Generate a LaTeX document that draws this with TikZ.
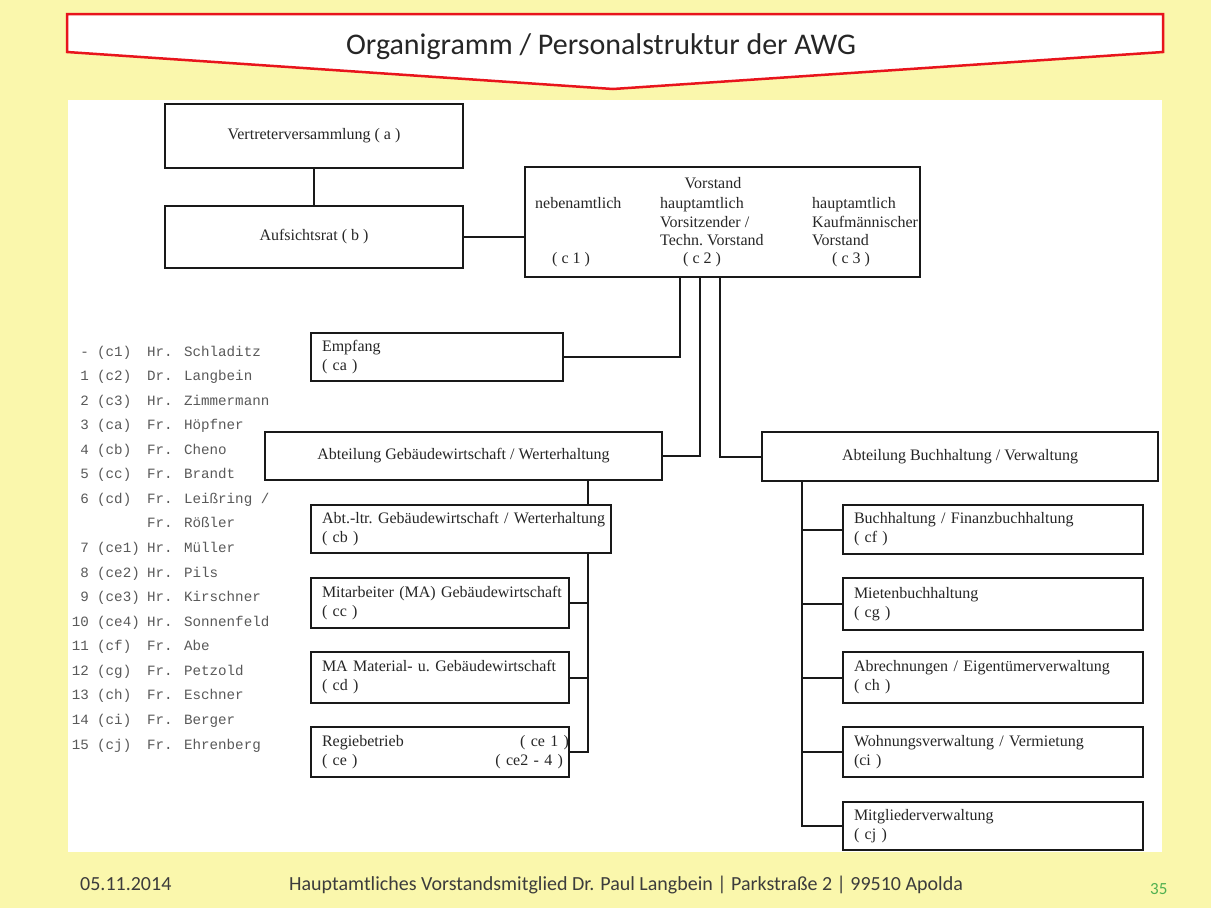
\documentclass[tikz,border=0pt]{standalone}
\usepackage{fontspec}
\setmainfont{Liberation Serif}
\newfontfamily\calfont{Carlito}
\newfontfamily\listfont{Liberation Mono}
\newcommand\lsl{/}
\definecolor{bgyellow}{RGB}{250,247,172}
\definecolor{bannerred}{RGB}{232,20,28}
\definecolor{pagegreen}{RGB}{80,176,80}
\definecolor{foottext}{RGB}{60,60,60}
\tikzset{
 box/.style={draw=black!90, line width=2pt, fill=white, inner sep=0pt,
   font=\fontsize{16}{19}\selectfont\frenchspacing, text=black!85},
 lbox/.style={box, align=left, inner xsep=11pt},
 conn/.style={draw=black!90, line width=2pt},
 vtext/.style={font=\fontsize{16}{19}\selectfont\frenchspacing, text=black!85, inner sep=0pt},
 listtext/.style={font=\listfont\fontsize{14.2}{17}\selectfont, text=black!65, inner sep=0pt},
 foot/.style={font=\calfont\fontsize{20}{24}\selectfont, text=foottext, inner sep=0pt}
}
\begin{document}
\begin{tikzpicture}[x=1pt,y=-1pt]
\useasboundingbox (0,0) rectangle (1211,908);
\fill[bgyellow] (0,0) rectangle (1211,908);
\fill[white] (68,100) rectangle (1162,852);
% banner
\draw[bannerred, line width=2.5pt, fill=white, line join=miter]
  (67,14) -- (1163,14) -- (1163,52) -- (613,89) -- (67,52) -- cycle;
\node[font=\calfont\fontsize{30}{36}\selectfont, text=black!85, anchor=base, inner sep=0pt]
  (title) at (601,54) {Organigramm / Personalstruktur der AWG};

% top boxes
\node[box, minimum width=298pt, minimum height=64pt] (va) at (314,136) {Vertreterversammlung ( a )};
\node[box, minimum width=298pt, minimum height=62pt] (ar) at (314,237) {Aufsichtsrat ( b )};
\node[box, minimum width=395pt, minimum height=110pt] (vs) at (722.5,222) {};
\node[vtext, anchor=base] (vsT) at (713,188) {Vorstand};
\node[vtext, anchor=base west] (vs1a) at (535,208) {nebenamtlich};
\node[vtext, anchor=base west] (vs2a) at (660,208) {hauptamtlich};
\node[vtext, anchor=base west] (vs2b) at (660,227) {Vorsitzender /};
\node[vtext, anchor=base west] (vs2c) at (660,245) {Techn. Vorstand};
\node[vtext, anchor=base west] (vs3a) at (812,208) {hauptamtlich};
\node[vtext, anchor=base west] (vs3b) at (812,227) {Kaufmännischer};
\node[vtext, anchor=base west] (vs3c) at (812,245) {Vorstand};
\node[vtext, anchor=base west] (vs1c) at (552,263) {( c 1 )};
\node[vtext, anchor=base west] (vs2d) at (683,263) {( c 2 )};
\node[vtext, anchor=base west] (vs3d) at (832,263) {( c 3 )};

% middle column
\node[lbox, text width=230pt, minimum height=48pt] (em) at (437,357) {Empfang\\( ca )};
\node[box, minimum width=397pt, minimum height=48pt] (ag) at (463.5,456) {Abteilung Gebäudewirtschaft / Werterhaltung};
\node[lbox, text width=278pt, minimum height=48pt] (cb) at (461,529) {\mbox{Abt.-ltr. Gebäudewirtschaft / Werterhaltung}\\( cb )};
\node[lbox, text width=236pt, minimum height=50pt] (cc) at (440,603) {\mbox{Mitarbeiter (MA) Gebäudewirtschaft}\\( cc )};
\node[lbox, text width=236pt, minimum height=51pt] (cd) at (440,677.5) {\mbox{MA Material- u. Gebäudewirtschaft}\\( cd )};
\node[lbox, minimum height=50pt, inner xsep=0pt, text width=258pt] (ce) at (440,752)
  {\hspace*{11pt}Regiebetrieb\hfill( ce 1 )\hspace*{6pt}\\\hspace*{11pt}( ce )\hfill( ce2 - 4 )\hspace*{6pt}};

% right column
\node[box, minimum width=396pt, minimum height=49pt] (ab) at (960,456.5) {Abteilung Buchhaltung / Verwaltung};
\node[lbox, text width=278pt, minimum height=49pt] (cf) at (993,529.5) {Buchhaltung / Finanzbuchhaltung\\( cf )};
\node[lbox, text width=278pt, minimum height=52pt] (cg) at (993,604) {Mietenbuchhaltung\\( cg )};
\node[lbox, text width=278pt, minimum height=51pt] (ch) at (993,677.5) {\mbox{Abrechnungen / Eigentümerverwaltung}\\( ch )};
\node[lbox, text width=278pt, minimum height=50pt] (ci) at (993,752) {Wohnungsverwaltung / Vermietung\\(ci )};
\node[lbox, text width=278pt, minimum height=48pt] (cj) at (993,826) {Mitgliederverwaltung\\( cj )};

% connectors
\draw[conn] (va.south) -- (ar.north);
\draw[conn] (ar.east) -- (ar.east -| vs.west);
\coordinate (v1) at ([xshift=-42.5pt]vs.south);
\coordinate (v2) at ([xshift=-22.5pt]vs.south);
\coordinate (v3) at ([xshift=-2.5pt]vs.south);
\draw[conn] (v1) |- (em.east);
\draw[conn] (v2) |- (ag.east);
\draw[conn] (v3) |- (ab.west);
\coordinate (g0) at ([xshift=124.5pt]ag.south);
\draw[conn] (g0) -- (g0 |- cb.north);
\draw[conn] (g0 |- cb.south) |- (ce.east);
\draw[conn] (cc.east) -- (cc.east -| g0);
\draw[conn] (cd.east) -- (cd.east -| g0);
\coordinate (b0) at ([xshift=-158pt]ab.south);
\draw[conn] (b0) |- (cj.west);
\foreach \n in {cf,cg,ch,ci} { \draw[conn] (\n.west) -- (\n.west -| b0); }

% staff list
\foreach \num/\code/\name [count=\i from 0] in {-/(c1)/Hr. Schladitz, 1/(c2)/Dr. Langbein,
  2/(c3)/Hr. Zimmermann, 3/(ca)/Fr. Höpfner, 4/(cb)/Fr. Cheno, 5/(cc)/Fr. Brandt,
  6/(cd)/Fr. Leißring \lsl, {}/{}/Fr. Rößler, 7/(ce1)/Hr. Müller, 8/(ce2)/Hr. Pils,
  9/(ce3)/Hr. Kirschner, 10/(ce4)/Hr. Sonnenfeld, 11/(cf)/Fr. Abe, 12/(cg)/Fr. Petzold,
  13/(ch)/Fr. Eschner, 14/(ci)/Fr. Berger, 15/(cj)/Fr. Ehrenberg} {
  \node[listtext, anchor=base east] (num\i) at (89, 356+24.57*\i) {\num};
  \node[listtext, anchor=base west] (code\i) at (97, 356+24.57*\i) {\code};
  \node[listtext, anchor=base west] (name\i) at (147, 356+24.57*\i) {\name};
}

% footer
\node[foot, anchor=base west] (date) at (80,890) {05.11.2014};
\node[foot, anchor=base west] (addr) at (289,890) {Hauptamtliches Vorstandsmitglied Dr. Paul Langbein | Parkstraße 2 | 99510 Apolda};
\node[foot, anchor=base west, text=pagegreen, font=\calfont\fontsize{17}{20}\selectfont] (page) at (1150,894) {35};
\end{tikzpicture}
\end{document}
